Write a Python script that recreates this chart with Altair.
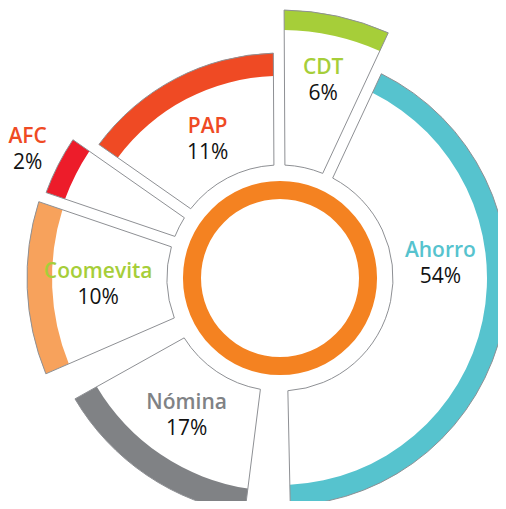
import math
import altair as alt
import pandas as pd

# Segments, clockwise from the top
categories = ["CDT", "Ahorro", "Nómina", "Coomevita", "AFC", "PAP"]
percent = [6, 54, 17, 10, 2, 11]
# angular extent of each slice and extra space after it (degrees)
arc_span = [25.3, 153.8, 53.6, 42.3, 16.2, 54.7]
gap_after = [0.0, 8.4, 5.7, 0.0, 0.0, 0.0]
# outer reach of each slice and thickness of its coloured rim
reach = [268, 228, 238, 253, 249, 225]
rim = [20, 21, 25, 25, 20, 23]

rim_colors = ["#A6CE39", "#56C3CE", "#808285", "#F7A25C", "#ED1C2A", "#EF4A24"]
name_colors = ["#A6CE39", "#56C3CE", "#808285", "#A6CE39", "#EF4A24", "#EF4A24"]

START_DEG = -0.3
CORE = 113
GAP_PX = 11
CX, CY = 272, 270

rows = []
pos = 0.0
for i, c in enumerate(categories):
    outside = arc_span[i] < 20
    rows.append(dict(
        cat=c,
        pct=f"{percent[i]}%",
        t0=pos,
        t1=pos + arc_span[i],
        reach=reach[i],
        rim_in=reach[i] - rim[i],
        lab_t=pos + min(arc_span[i] / 2, 60),
        lab_r=reach[i] + 34 if outside else reach[i] - rim[i] - 46,
    ))
    pos += arc_span[i] + gap_after[i]
df = pd.DataFrame(rows)

s = math.radians(START_DEG)
theta_scale = alt.Scale(domain=[0, 360], range=[s, s + 2 * math.pi])
radius_scale = alt.Scale(type="linear", domain=[0, 300], range=[0, 300], zero=True)

center = dict(x=alt.value(CX), y=alt.value(CY))
pad_full = {"expr": f"{GAP_PX}/sqrt({CORE*CORE}+datum.reach*datum.reach)"}
pad_rim = {"expr": f"{GAP_PX}/sqrt(datum.rim_in*datum.rim_in+datum.reach*datum.reach)"}

base = alt.Chart(df)

theta_enc = alt.Theta("t0:Q", scale=theta_scale, stack=None)

white = base.mark_arc(fill="white", padAngle=pad_full).encode(
    theta=theta_enc, theta2="t1:Q",
    radius=alt.Radius("reach:Q", scale=radius_scale),
    radius2=alt.value(CORE),
    **center,
)

rims = base.mark_arc(padAngle=pad_rim).encode(
    theta=theta_enc, theta2="t1:Q",
    radius=alt.Radius("reach:Q", scale=radius_scale),
    radius2="rim_in:Q",
    color=alt.Color("cat:N", scale=alt.Scale(domain=categories, range=rim_colors), legend=None),
    **center,
)

outline = base.mark_arc(fillOpacity=0, stroke="#8E9094", strokeWidth=1, padAngle=pad_full).encode(
    theta=theta_enc, theta2="t1:Q",
    radius=alt.Radius("reach:Q", scale=radius_scale),
    radius2=alt.value(CORE),
    **center,
)

ring = alt.Chart(pd.DataFrame({"k": [0]})).mark_arc(
    theta=0, theta2=2 * math.pi, outerRadius=97, innerRadius=79, fill="#F48221"
).encode(**center)

lab_theta = alt.Theta("lab_t:Q", scale=theta_scale, stack=None)
lab_radius = alt.Radius("lab_r:Q", scale=radius_scale)

names = base.mark_text(font="Open Sans", fontSize=21, fontWeight=600, dy=-13).encode(
    theta=lab_theta, radius=lab_radius, text="cat:N",
    color=alt.Color("cat:N", scale=alt.Scale(domain=categories, range=name_colors), legend=None),
    **center,
)

pcts = base.mark_text(font="Open Sans", fontSize=21, fontWeight=400, dy=13, color="#111111").encode(
    theta=lab_theta, radius=lab_radius, text="pct:N",
    **center,
)

chart = alt.layer(white, rims, outline, ring, names, pcts).resolve_scale(
    color="independent"
).properties(
    width=490, height=493, autosize=alt.AutoSizeParams(type="none"), padding=0,
    background="white",
).configure_view(stroke=None)

chart.save("out.html", embed_options={"renderer": "svg", "actions": False})
